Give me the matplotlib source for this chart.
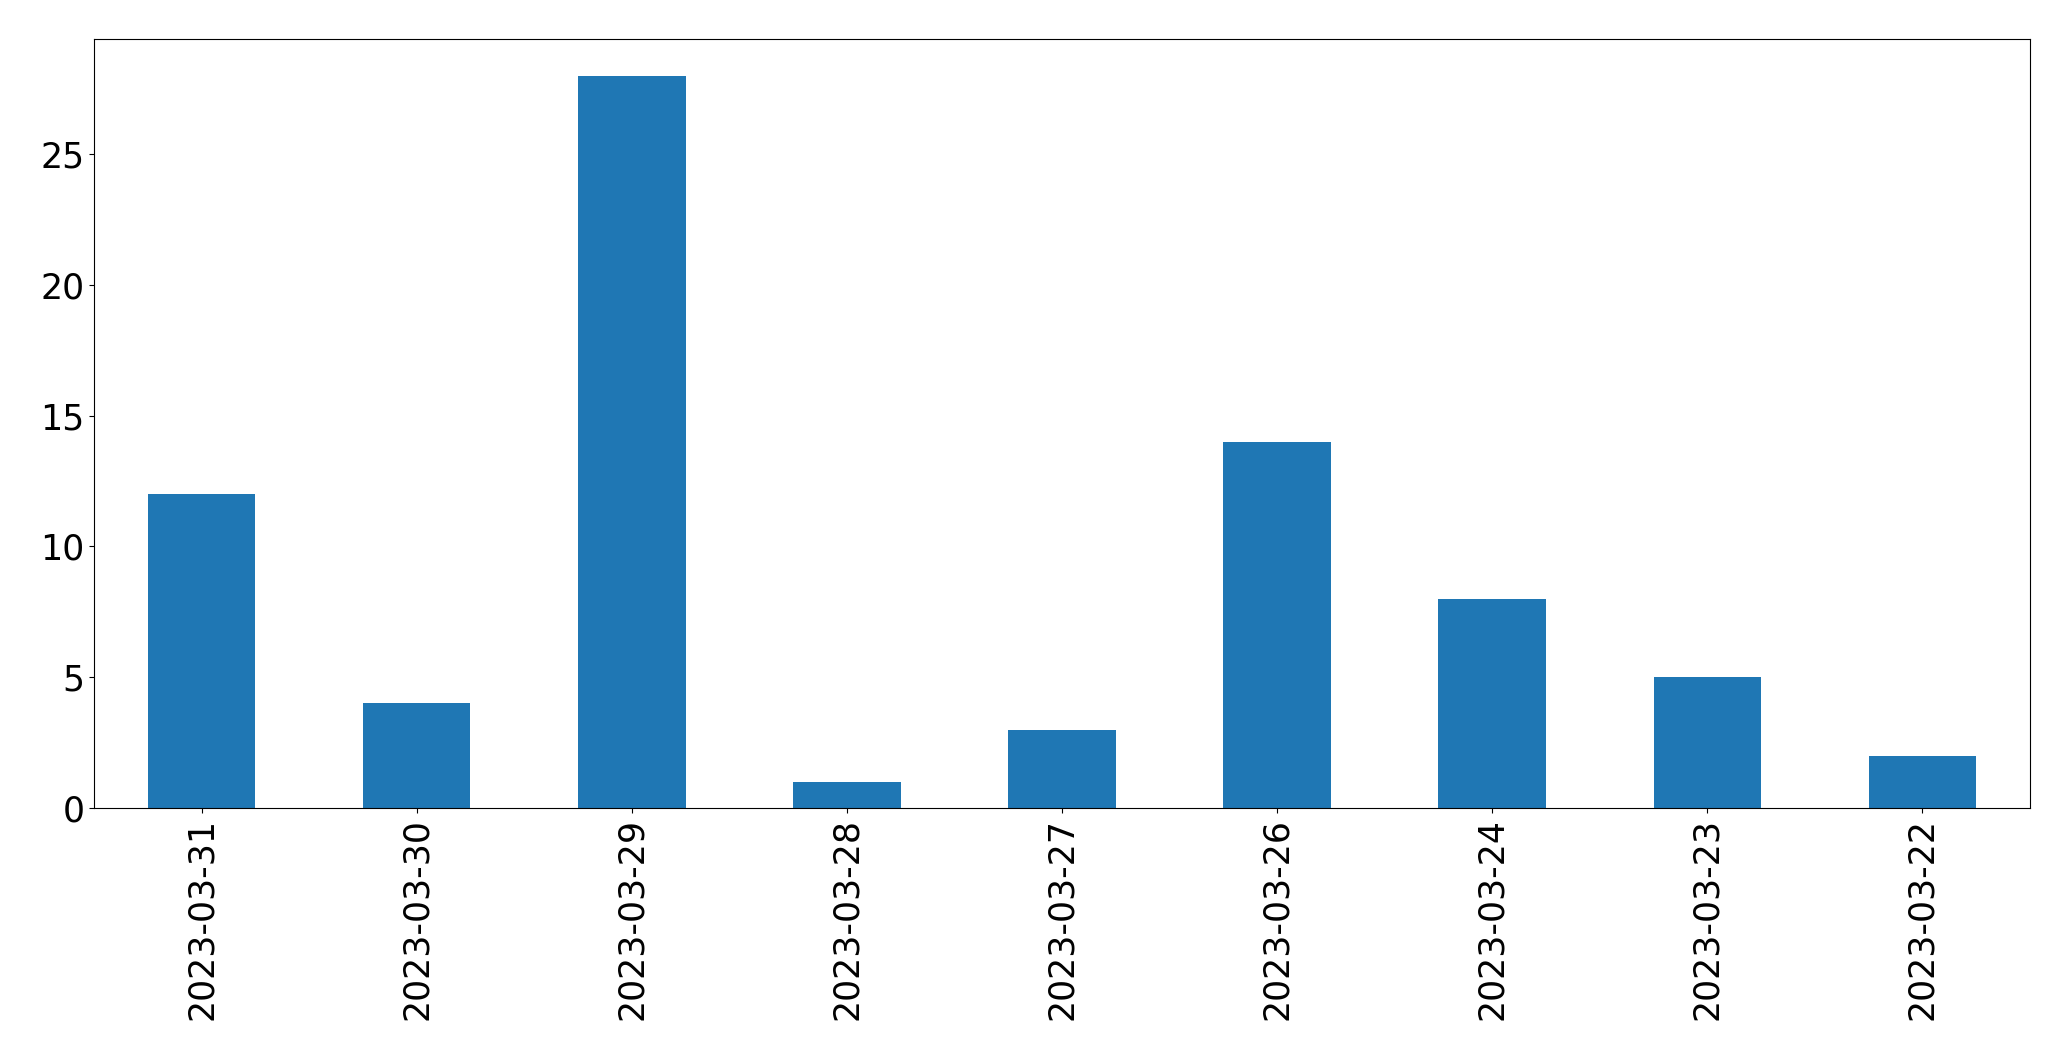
import matplotlib
matplotlib.use("Agg")
import matplotlib.pyplot as plt
import pandas as pd

# fechas y conteos
dates = ["2023-03-31", "2023-03-30", "2023-03-29", "2023-03-28", "2023-03-27",
         "2023-03-26", "2023-03-24", "2023-03-23", "2023-03-22"]
counts = [12, 4, 28, 1, 3, 14, 8, 5, 2]

s = pd.Series(counts, index=dates)

fig = plt.figure(figsize=(20.71, 10.61), dpi=100)
ax = fig.add_axes([0.0454, 0.2385, 0.9348, 0.7245])
s.plot(kind="bar", ax=ax, color="#1f77b4")
ax.tick_params(axis="both", labelsize=25)

plt.savefig("out.png", dpi=100)
